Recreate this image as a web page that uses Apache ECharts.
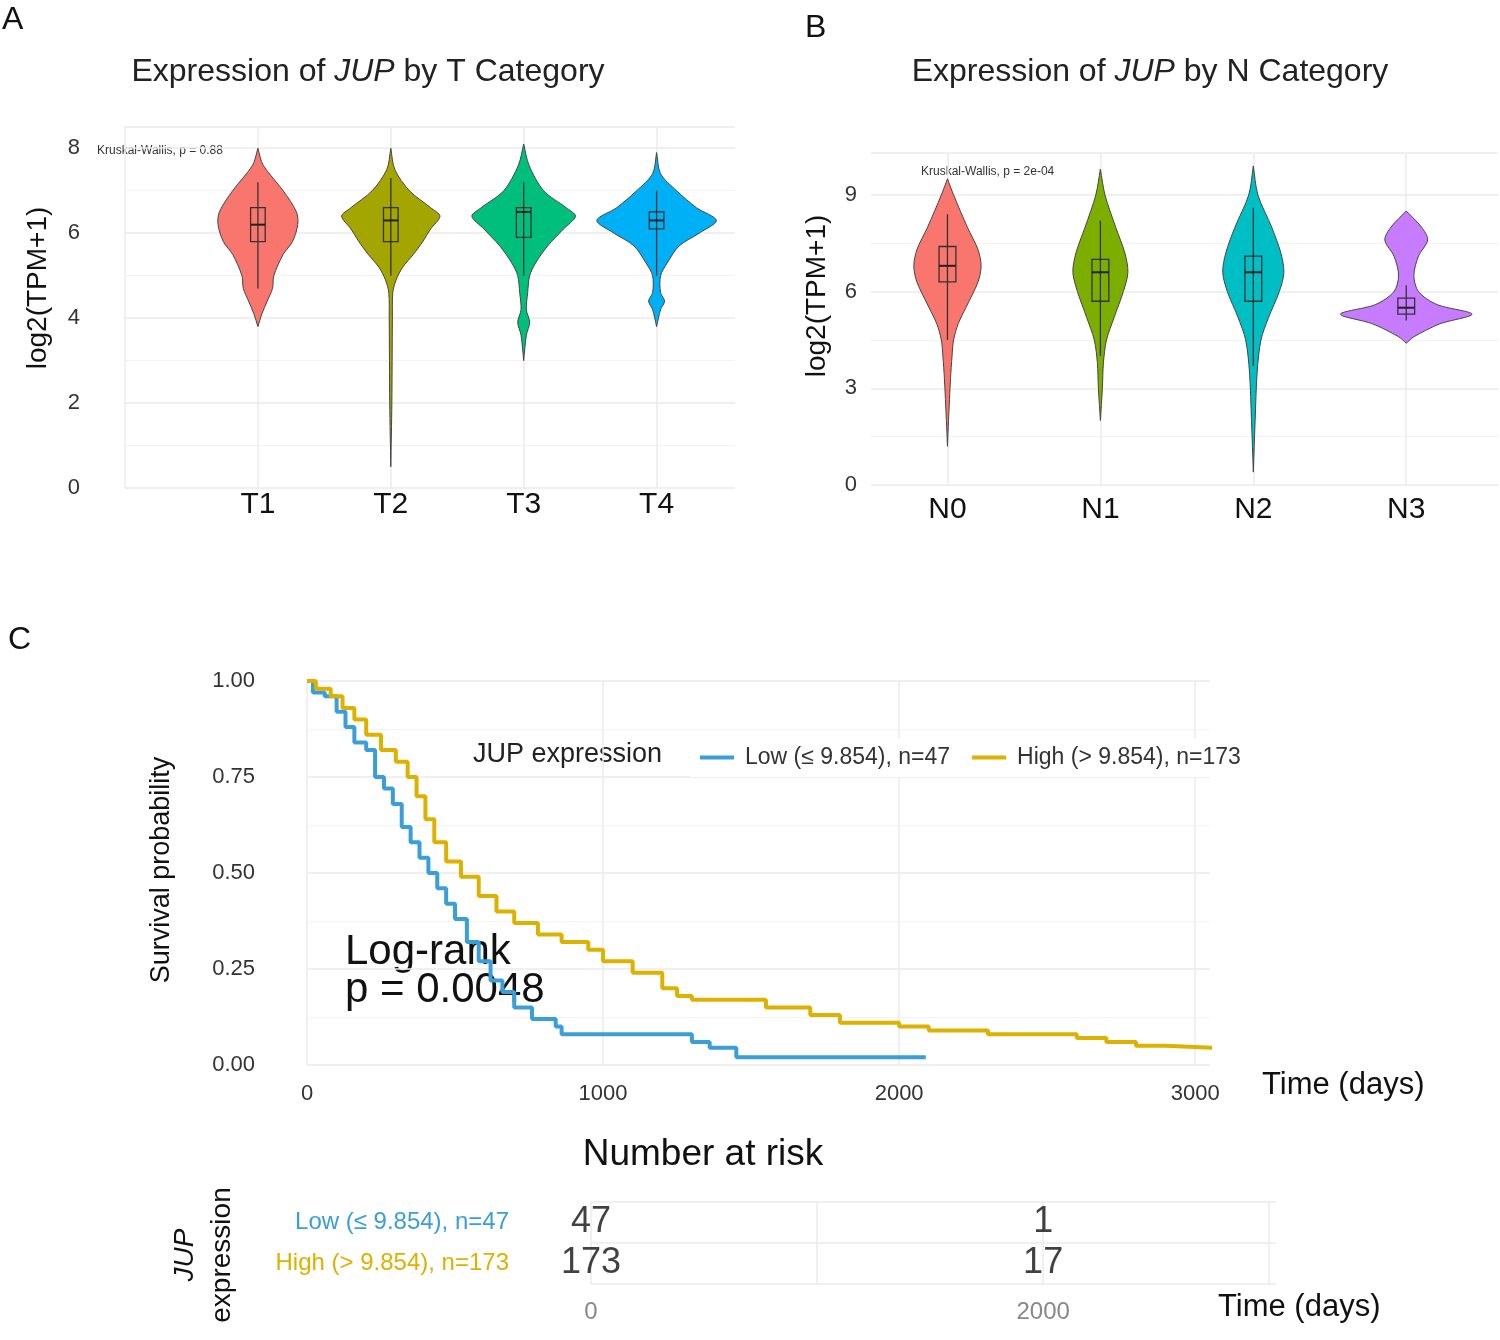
<!DOCTYPE html>
<html><head><meta charset="utf-8">
<script src="https://cdn.jsdelivr.net/npm/echarts@6/dist/echarts.min.js"></script>
<style>html,body{margin:0;background:#fff}#c{width:1500px;height:1340px}</style>
</head><body><div id="c"></div>
<script>
// ---- data ----
var tCats = ['T1', 'T2', 'T3', 'T4'];
var tColors = ['#F8766D', '#A3A500', '#00BF7D', '#00B0F6'];
// violin outlines: [y, half width in category units]
var tShapes = [
    [[8.0,0],[7.6,0.04],[7.0,0.19],[6.5,0.29],[6.2,0.30],[5.8,0.26],[5.5,0.19],[5.0,0.12],[4.7,0.11],[4.4,0.07],[4.1,0.03],[3.8,0]],
    [[8.0,0],[7.5,0.03],[7.0,0.14],[6.6,0.30],[6.4,0.37],[6.1,0.30],[5.8,0.24],[5.5,0.17],[5.2,0.09],[4.9,0.04],[4.6,0.015],[4.0,0.012],[2.0,0.008],[0.5,0]],
    [[8.1,0],[7.6,0.04],[7.0,0.15],[6.6,0.32],[6.4,0.39],[6.1,0.30],[5.7,0.18],[5.3,0.09],[5.0,0.045],[4.6,0.03],[4.2,0.02],[3.9,0.045],[3.6,0.02],[3.0,0]],
    [[7.9,0],[7.4,0.03],[7.0,0.15],[6.6,0.30],[6.3,0.45],[6.0,0.32],[5.7,0.17],[5.3,0.08],[5.0,0.03],[4.6,0.03],[4.4,0.06],[4.2,0.03],[3.8,0]]
];
// box: [whisker low, q1, median, q3, whisker high]
var tBoxes = [[4.7,5.8,6.2,6.6,7.2],[5.0,5.8,6.3,6.6,7.3],[5.0,5.9,6.5,6.6,7.2],[5.0,6.1,6.3,6.5,7.0]];

var nCats = ['N0', 'N1', 'N2', 'N3'];
var nColors = ['#F8766D', '#7CAE00', '#00BFC4', '#C77CFF'];
var nShapes = [
    [[9.5,0],[9.0,0.04],[8.0,0.13],[7.3,0.20],[6.8,0.22],[6.3,0.20],[5.5,0.12],[5.0,0.07],[4.5,0.04],[4.0,0.03],[3.3,0.02],[2.0,0.007],[1.2,0]],
    [[9.8,0],[9.0,0.03],[8.0,0.10],[7.2,0.16],[6.6,0.18],[6.0,0.15],[5.2,0.09],[4.5,0.04],[3.8,0.02],[3.0,0.013],[2.0,0]],
    [[9.9,0],[9.0,0.03],[8.0,0.12],[7.2,0.18],[6.6,0.20],[6.0,0.17],[5.2,0.10],[4.5,0.05],[3.5,0.025],[2.0,0.012],[0.4,0]],
    [[8.5,0],[8.0,0.10],[7.6,0.14],[7.1,0.08],[6.5,0.05],[6.0,0.08],[5.6,0.20],[5.3,0.43],[5.0,0.22],[4.6,0.05],[4.4,0]]
];
var nBoxes = [[4.5,6.3,6.8,7.4,8.4],[4.0,5.7,6.6,7.0,8.2],[3.7,5.7,6.6,7.1,8.6],[5.1,5.3,5.5,5.8,6.2]];

var lowName = 'Low (≤ 9.854), n=47';
var highName = 'High (> 9.854), n=173';
var kmTicks = [0, 1000, 2000, 3000];
var lowKM = [[0,1],[20,0.97],[60,0.96],[100,0.92],[130,0.88],[160,0.84],[200,0.82],[230,0.75],[260,0.72],[290,0.68],[320,0.62],[350,0.58],[380,0.54],[410,0.5],[440,0.46],[470,0.42],[500,0.38],[540,0.32],[580,0.27],[620,0.22],[660,0.19],[700,0.15],[760,0.12],[840,0.10],[860,0.08],[1300,0.06],[1360,0.045],[1450,0.02],[2090,0.02]];
var highKM = [[0,1],[30,0.98],[80,0.96],[120,0.93],[160,0.90],[200,0.86],[250,0.82],[300,0.79],[340,0.75],[370,0.70],[400,0.64],[430,0.58],[470,0.53],[520,0.49],[580,0.44],[640,0.40],[700,0.37],[780,0.34],[860,0.32],[950,0.30],[1000,0.27],[1100,0.24],[1200,0.20],[1250,0.18],[1300,0.17],[1450,0.17],[1550,0.15],[1700,0.13],[1800,0.11],[2000,0.10],[2100,0.09],[2300,0.08],[2600,0.07],[2700,0.06],[2800,0.05],[2900,0.045],[3060,0.04]];
var riskTimes = [0, 2000];
var riskLow = [47, 1];
var riskHigh = [173, 17];

var BLUE = '#3A9FD8', GOLD = '#DDB100';
var FONT = 'Liberation Sans';

function violinSeries(xi, yi, shapes, boxes, colors) {
    return {
        type: 'custom', xAxisIndex: xi, yAxisIndex: yi,
        data: shapes.map(function(s, i) { return [i + 1]; }),
        renderItem: function(params, api) {
            var i = params.dataIndex, c = i + 1, s = shapes[i], b = boxes[i];
            var pts = [];
            s.forEach(function(p) { pts.push(api.coord([c + p[1], p[0]])); });
            for (var k = s.length - 1; k >= 0; k--) pts.push(api.coord([c - s[k][1], s[k][0]]));
            var bw = 0.055;
            var tl = api.coord([c - bw, b[3]]), br = api.coord([c + bw, b[1]]);
            var ml = api.coord([c - bw, b[2]]), mr = api.coord([c + bw, b[2]]);
            var lo = api.coord([c, b[0]]), hi = api.coord([c, b[4]]);
            var st = { stroke: '#333', lineWidth: 1.3, fill: null };
            return { type: 'group', children: [
                { type: 'polygon', shape: { points: pts, smooth: 0.3 }, style: { fill: colors[i], stroke: '#444', lineWidth: 1 } },
                { type: 'line', shape: { x1: lo[0], y1: lo[1], x2: hi[0], y2: hi[1] }, style: st },
                { type: 'rect', shape: { x: tl[0], y: tl[1], width: br[0] - tl[0], height: br[1] - tl[1] }, style: st },
                { type: 'line', shape: { x1: ml[0], y1: ml[1], x2: mr[0], y2: mr[1] }, style: { stroke: '#222', lineWidth: 2 } }
            ]};
        }
    };
}

var gridLine = { lineStyle: { color: '#ebebeb', width: 1.5 } };
var minorLine = { show: true, lineStyle: { color: '#f3f3f3', width: 1 } };
var tick = { color: '#333', fontSize: 22, fontFamily: FONT };

var chart = echarts.init(document.getElementById('c'));
chart.setOption({
    animation: false,
    textStyle: { fontFamily: FONT },
    grid: [
        { left: 125, top: 127, width: 610, height: 361 },
        { left: 871, top: 153, width: 627, height: 332 },
        { left: 307, top: 681, width: 903, height: 384 },
        { left: 591, top: 1202, width: 685, height: 82 }
    ],
    xAxis: [
        { gridIndex: 0, type: 'value', min: 0, max: 4.59, axisLine: { show: false }, splitLine: gridLine,
          axisTick: { show: false, customValues: [0, 1, 2, 3, 4] },
          axisLabel: { fontSize: 30, color: '#111', margin: 2, customValues: [1, 2, 3, 4], formatter: function(v) { return tCats[v - 1] || ''; } } },
        { gridIndex: 1, type: 'value', min: 0.5, max: 4.6, axisLine: { show: false }, splitLine: gridLine,
          axisTick: { show: false, customValues: [1, 2, 3, 4] },
          axisLabel: { fontSize: 30, color: '#111', margin: 10, customValues: [1, 2, 3, 4], formatter: function(v) { return nCats[v - 1] || ''; } } },
        { gridIndex: 2, type: 'value', min: 0, max: 3050, axisLine: { show: false }, splitLine: gridLine,
          axisTick: { show: false, customValues: kmTicks },
          axisLabel: Object.assign({}, tick, { margin: 18, customValues: kmTicks, formatter: function(v) { return String(v); } }) },
        { gridIndex: 3, type: 'value', min: 0, max: 3030, axisLine: { show: false }, splitLine: gridLine,
          axisTick: { show: false, customValues: kmTicks },
          axisLabel: { fontSize: 24, color: '#888', margin: 16, customValues: riskTimes, formatter: function(v) { return String(v); } } }
    ],
    yAxis: [
        { gridIndex: 0, type: 'value', min: 0, max: 8.5, interval: 2, axisLine: { show: false }, axisTick: { show: false },
          splitLine: gridLine, minorTick: { show: false, splitNumber: 2 }, minorSplitLine: minorLine,
          axisLabel: Object.assign({}, tick, { margin: 45, showMaxLabel: false }) },
        { gridIndex: 1, type: 'value', min: 0, max: 10.3, interval: 3, axisLine: { show: false }, axisTick: { show: false },
          splitLine: gridLine, minorTick: { show: false, splitNumber: 2 }, minorSplitLine: minorLine,
          axisLabel: Object.assign({}, tick, { margin: 14, showMaxLabel: false }) },
        { gridIndex: 2, type: 'value', min: 0, max: 1, interval: 0.25, axisLine: { show: false }, axisTick: { show: false },
          splitLine: gridLine, minorTick: { show: false, splitNumber: 2 }, minorSplitLine: minorLine,
          axisLabel: Object.assign({}, tick, { margin: 52, formatter: function(v) { return v.toFixed(2); } }) },
        { gridIndex: 3, type: 'category', data: [highName, lowName], axisLine: { show: false }, axisTick: { show: false },
          splitLine: { show: true, lineStyle: { color: '#ebebeb', width: 1.5 } },
          axisLabel: { margin: 82, fontSize: 24, formatter: function(v) { return v === lowName ? '{l|' + v + '}' : '{h|' + v + '}'; },
            rich: { l: { color: BLUE, fontSize: 24 }, h: { color: GOLD, fontSize: 24 } } } }
    ],
    legend: {
        left: 690, top: 738, itemWidth: 34, itemHeight: 4, itemGap: 22, icon: 'rect',
        textStyle: { fontSize: 23, color: '#333', padding: [0, 0, 0, 6] }, padding: [8, 0, 8, 10], backgroundColor: '#fff',
        data: [lowName, highName]
    },
    series: [
        violinSeries(0, 0, tShapes, tBoxes, tColors),
        violinSeries(1, 1, nShapes, nBoxes, nColors),
        { name: lowName, type: 'line', xAxisIndex: 2, yAxisIndex: 2, step: 'end', data: lowKM, showSymbol: false, lineStyle: { color: BLUE, width: 4 }, itemStyle: { color: BLUE } },
        { name: highName, type: 'line', xAxisIndex: 2, yAxisIndex: 2, step: 'end', data: highKM, showSymbol: false, lineStyle: { color: GOLD, width: 4 }, itemStyle: { color: GOLD } },
        { type: 'scatter', xAxisIndex: 3, yAxisIndex: 3, symbolSize: 0, silent: true,
          data: riskTimes.map(function(t, i) { return [t, lowName, riskLow[i]]; }).concat(riskTimes.map(function(t, i) { return [t, highName, riskHigh[i]]; })),
          label: { show: true, position: 'inside', fontSize: 36, color: '#111', formatter: function(p) { return p.value[2]; } } }
    ],
    graphic: [
        { type: 'text', left: 2, top: 4, style: { text: 'A', fontSize: 32, fill: '#111' } },
        { type: 'text', left: 805, top: 12, style: { text: 'B', fontSize: 32, fill: '#111' } },
        { type: 'text', left: 8, top: 624, style: { text: 'C', fontSize: 32, fill: '#111' } },
        { type: 'text', x: 368, y: 72, style: { text: 'Expression of {i|JUP} by T Category', fontSize: 32, fill: '#222', align: 'center', verticalAlign: 'middle', rich: { i: { fontStyle: 'italic', fontSize: 32, fill: '#222' } } } },
        { type: 'text', x: 1150, y: 72, style: { text: 'Expression of {i|JUP} by N Category', fontSize: 32, fill: '#222', align: 'center', verticalAlign: 'middle', rich: { i: { fontStyle: 'italic', fontSize: 32, fill: '#222' } } } },
        { type: 'text', x: 97, y: 151, style: { text: 'Kruskal-Wallis, p = 0.88', fontSize: 12, fill: '#333', verticalAlign: 'middle' } },
        { type: 'text', x: 921, y: 172, style: { text: 'Kruskal-Wallis, p = 2e-04', fontSize: 12, fill: '#333', verticalAlign: 'middle' } },
        { type: 'text', x: 38, y: 288, rotation: Math.PI / 2, style: { text: 'log2(TPM+1)', fontSize: 28, fill: '#111', align: 'center', verticalAlign: 'middle' } },
        { type: 'text', x: 817, y: 296, rotation: Math.PI / 2, style: { text: 'log2(TPM+1)', fontSize: 28, fill: '#111', align: 'center', verticalAlign: 'middle' } },
        { type: 'text', x: 162, y: 870, rotation: Math.PI / 2, style: { text: 'Survival probability', fontSize: 27, fill: '#111', align: 'center', verticalAlign: 'middle' } },
        { type: 'rect', shape: { x: 460, y: 735, width: 235, height: 40 }, style: { fill: '#fff' } },
        { type: 'text', x: 473, y: 755, style: { text: 'JUP expression', fontSize: 27, fill: '#222', verticalAlign: 'middle' } },
        { type: 'text', x: 345, y: 952, style: { text: 'Log-rank', fontSize: 42, fill: '#111', verticalAlign: 'middle' } },
        { type: 'text', x: 345, y: 990, style: { text: 'p = 0.0048', fontSize: 42, fill: '#111', verticalAlign: 'middle' } },
        { type: 'text', x: 1262, y: 1085, style: { text: 'Time (days)', fontSize: 31, fill: '#111', verticalAlign: 'middle' } },
        { type: 'text', x: 703, y: 1155, style: { text: 'Number at risk', fontSize: 37, fill: '#111', align: 'center', verticalAlign: 'middle' } },
        { type: 'text', x: 1218, y: 1307, style: { text: 'Time (days)', fontSize: 31, fill: '#111', verticalAlign: 'middle' } },
        { type: 'text', x: 185, y: 1255, rotation: Math.PI / 2, style: { text: '{i|JUP}', fontSize: 28, fill: '#111', align: 'center', verticalAlign: 'middle', rich: { i: { fontStyle: 'italic', fontSize: 28, fill: '#111' } } } },
        { type: 'text', x: 222, y: 1255, rotation: Math.PI / 2, style: { text: 'expression', fontSize: 28, fill: '#111', align: 'center', verticalAlign: 'middle' } }
    ]
});
</script>
</body></html>
